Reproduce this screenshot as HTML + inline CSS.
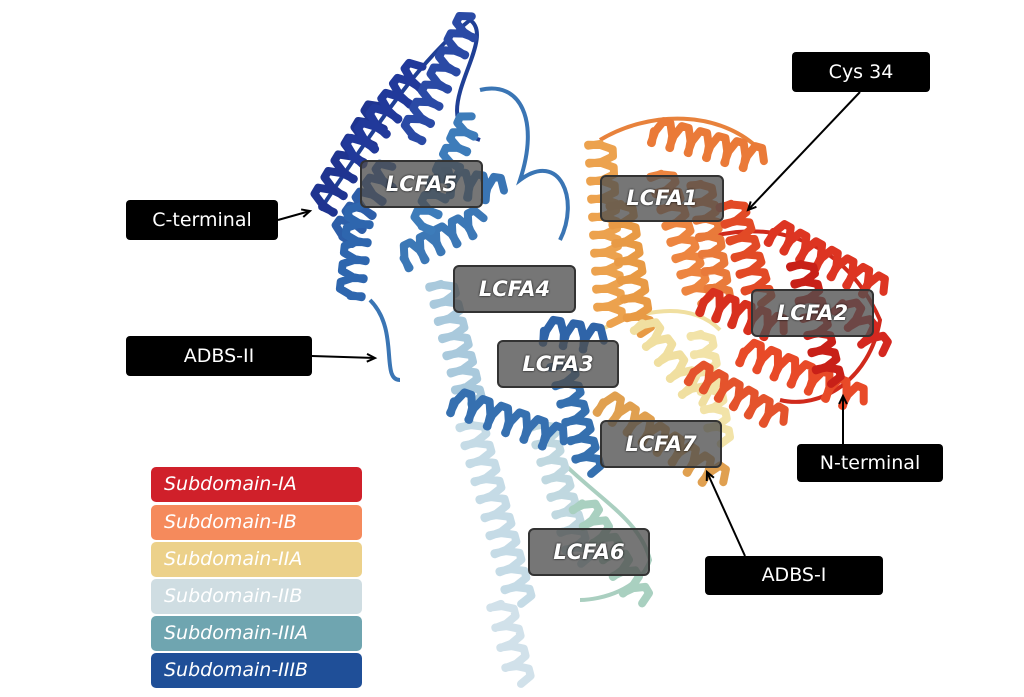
<!DOCTYPE html>
<html><head><meta charset="utf-8"><style>
html,body{margin:0;padding:0;background:#fff;}
#w{position:relative;width:1024px;height:697px;overflow:hidden;background:#fff;font-family:"DejaVu Sans","Liberation Sans",sans-serif;}
svg{position:absolute;left:0;top:0;}
.lc{position:absolute;background:rgba(80,80,80,0.78);border:2px solid #333;border-radius:6px;color:#fff;font-style:italic;font-weight:bold;font-size:21px;text-align:center;box-sizing:border-box;text-shadow:0 0 2px #000;}
.bl{position:absolute;background:#000;border-radius:4px;color:#fff;font-size:19px;text-align:center;box-sizing:border-box;}
.lg{position:absolute;left:151px;width:211px;height:35px;border-radius:5px;color:#fff;font-style:italic;font-size:19px;line-height:35px;padding-left:13px;box-sizing:border-box;}
</style></head><body><div id="w">
<svg id="s" width="1024" height="697"></svg>
<div class="lc" style="left:360px;top:160px;width:123px;height:48px;line-height:44px">LCFA5</div>
<div class="lc" style="left:600px;top:175px;width:124px;height:47px;line-height:43px">LCFA1</div>
<div class="lc" style="left:453px;top:265px;width:123px;height:48px;line-height:44px">LCFA4</div>
<div class="lc" style="left:751px;top:289px;width:123px;height:48px;line-height:44px">LCFA2</div>
<div class="lc" style="left:497px;top:340px;width:122px;height:48px;line-height:44px">LCFA3</div>
<div class="lc" style="left:600px;top:420px;width:122px;height:48px;line-height:44px">LCFA7</div>
<div class="lc" style="left:528px;top:528px;width:122px;height:48px;line-height:44px">LCFA6</div>
<div class="bl" style="left:792px;top:52px;width:138px;height:40px;line-height:40px">Cys 34</div>
<div class="bl" style="left:126px;top:200px;width:152px;height:40px;line-height:40px">C-terminal</div>
<div class="bl" style="left:126px;top:336px;width:186px;height:40px;line-height:40px">ADBS-II</div>
<div class="bl" style="left:797px;top:444px;width:146px;height:38px;line-height:38px">N-terminal</div>
<div class="bl" style="left:705px;top:556px;width:178px;height:39px;line-height:39px">ADBS-I</div>
<div class="lg" style="top:467px;background:#d0202a">Subdomain-IA</div>
<div class="lg" style="top:505px;background:#f58a5c">Subdomain-IB</div>
<div class="lg" style="top:542px;background:#ecd18a">Subdomain-IIA</div>
<div class="lg" style="top:579px;background:#cfdde2">Subdomain-IIB</div>
<div class="lg" style="top:616px;background:#6fa5b0">Subdomain-IIIA</div>
<div class="lg" style="top:653px;background:#1f4f98">Subdomain-IIIB</div>
</div>
<script>
var s=document.getElementById('s'),NS='http://www.w3.org/2000/svg';
function el(n,a){var e=document.createElementNS(NS,n);for(var k in a)e.setAttribute(k,a[k]);s.appendChild(e);return e;}
function hx(x1,y1,x2,y2,c,r){var dx=x2-x1,dy=y2-y1,L=Math.hypot(dx,dy),ux=dx/L,uy=dy/L,px=-uy,py=ux,n=Math.max(2,Math.floor(L/17)),d='';
for(var i=0;i<=n*6;i++){var t=i/(n*6)*L,ph=i/6*Math.PI*2,o=Math.sin(ph)*r,sh=Math.cos(ph)*4;var x=x1+ux*(t+sh)+px*o,y=y1+uy*(t+sh)+py*o;d+=(i?'L':'M')+x.toFixed(1)+' '+y.toFixed(1);}
el('path',{d:d,stroke:c,'stroke-width':8,fill:'none','stroke-linejoin':'round','stroke-linecap':'round'});}
function lp(d,c){el('path',{d:d,stroke:c,'stroke-width':4,fill:'none'});}
lp('M320 210 C380 120 420 60 470 20 C500 40 420 120 480 140','#1f3f95');
lp('M480 90 C520 80 540 120 520 180 C560 150 580 200 560 240','#3a75b4');
lp('M370 300 C400 330 380 380 400 380','#3a75b4');
lp('M600 140 C650 110 720 110 760 150','#e8823c');
lp('M700 240 C760 220 840 230 880 320 C870 380 820 410 780 400','#d02a1c');
lp('M600 330 C640 310 690 300 720 330','#f0dfa0');
lp('M560 460 C600 500 640 520 650 560 C640 590 600 600 580 600','#aacfc0');
hx(320,210,380,110,'#1f3490',15);hx(350,160,420,70,'#21399a',15);hx(410,140,470,20,'#2a4aa5',13);
hx(340,240,390,170,'#2d5ea8',14);hx(350,300,360,210,'#2e66ae',13);hx(430,180,500,190,'#3a75b4',14);
hx(400,260,480,220,'#3c78b6',13);hx(420,230,470,120,'#3d7cba',12);
hx(440,280,470,400,'#a9c9dc',14);hx(470,420,520,600,'#c5dbe6',14);hx(500,600,520,680,'#d1e1ea',13);
hx(540,420,580,560,'#c0d8e0',13);hx(540,330,600,340,'#2f64a8',14);hx(450,400,560,440,'#3670b0',14);
hx(560,360,590,470,'#3570af',13);hx(580,500,640,600,'#a9d0c0',13);
hx(600,140,610,320,'#eca24e',14);hx(620,200,640,330,'#e89a45',13);hx(650,130,760,160,'#ea7a38',14);
hx(660,170,700,300,'#ed8540',13);hx(700,180,720,300,'#e97a3a',12);
hx(600,400,720,480,'#e0a050',14);hx(640,320,700,400,'#f0dfa0',13);hx(700,330,720,440,'#f2e3a8',12);
hx(730,200,760,300,'#e24a26',14);hx(770,230,880,290,'#dd3522',14);hx(700,300,780,330,'#d8301e',14);
hx(740,350,860,400,'#e84a28',14);hx(800,260,830,380,'#c82018',13);hx(840,300,880,350,'#d42820',13);
hx(690,370,780,420,'#e4532c',13);
function ar(x1,y1,x2,y2){var a=Math.atan2(y2-y1,x2-x1);
el('line',{x1:x1,y1:y1,x2:x2,y2:y2,stroke:'#000','stroke-width':2});
var b1=[x2-9*Math.cos(a-0.45),y2-9*Math.sin(a-0.45)],b2=[x2-9*Math.cos(a+0.45),y2-9*Math.sin(a+0.45)];
el('path',{d:'M'+b1+' L'+x2+' '+y2+' L'+b2,stroke:'#000','stroke-width':2,fill:'none'});}
ar(278,220,310,211);ar(312,356,375,358);ar(860,92,748,210);ar(843,444,843,396);ar(745,556,707,472);
</script>
</body></html>
